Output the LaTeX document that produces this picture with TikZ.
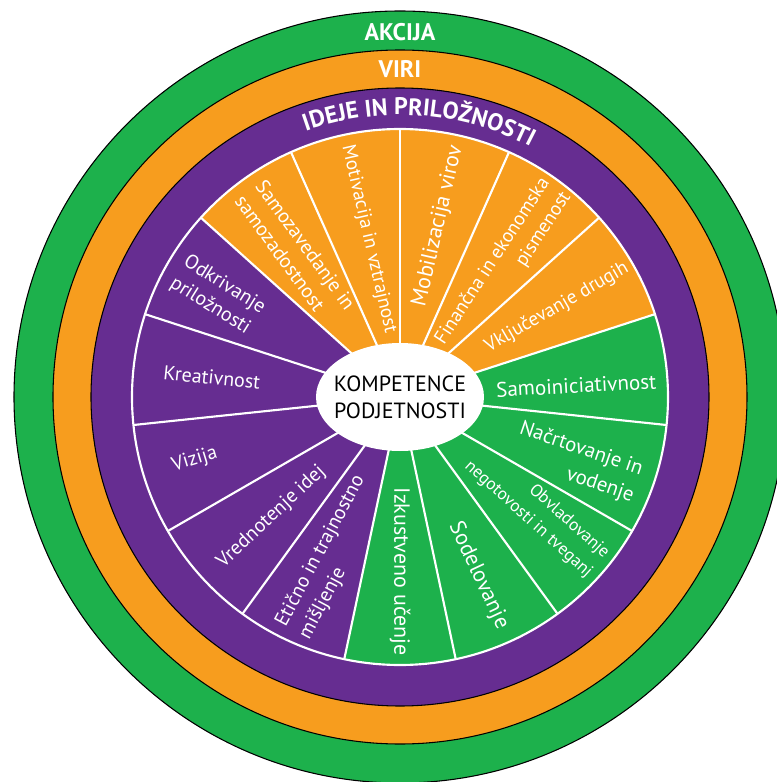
\documentclass[tikz,border=0pt]{standalone}
\usepackage{fontspec}
\setmainfont{PT Sans}
\usetikzlibrary{decorations.text}

\definecolor{akcija}{RGB}{29,177,76}
\definecolor{viri}{RGB}{247,157,30}
\definecolor{ideje}{RGB}{102,45,145}

\tikzset{
  ring/.style={draw=black,line width=0.8pt},
  spoke/.style={draw=white,line width=1.6pt},
  lbl/.style={text=white,inner sep=0pt,font=\fontsize{15}{19}\selectfont},
  lblr/.style={lbl,anchor=east,align=right},
  lbll/.style={lbl,anchor=west,align=left},
  big/.style={font=\fontsize{16.5}{20}\selectfont},
  small/.style={font=\fontsize{13}{19}\selectfont},
  head/.style={text=white,inner sep=0pt,font=\fontsize{18}{20}\selectfont\bfseries}
}

\begin{document}
\begin{tikzpicture}[x=0.75pt,y=0.75pt]
  \clip (-400,-385) rectangle (377,397);
  \fill[white] (-400,-385) rectangle (377,397);
  % rings
  \draw[ring,fill=akcija] (0,0) circle (386);
  \draw[ring,fill=viri] (0,0) circle (347);
  \draw[ring,fill=ideje] (0,0) circle (309);
  \node[head] (akc) at (0,365) {AKCIJA};
  \node[head] (vir) at (0,328) {VIRI};
  \path[decorate,decoration={text along path,text align=center,text color=white,
      text={|\fontsize{18}{20}\selectfont\bfseries|IDEJE IN PRILOŽNOSTI}}]
    (120:282) arc (120:52:282);
  % wheel
  \fill[viri] (0,0) -- (18:268) arc (18:138:268) -- cycle;
  \fill[ideje] (0,0) -- (138:268) arc (138:258:268) -- cycle;
  \fill[akcija] (0,0) -- (258:268) arc (258:378:268) -- cycle;
  \foreach \a in {18,42,...,354}
    \draw[spoke] (0,0) -- (\a:268);
  \draw[spoke] (0,0) circle (268);
  \fill[white] (0,0) ellipse [x radius=84,y radius=54];
  \node[inner sep=0pt,align=center,font=\fontsize{16.5}{20}\selectfont] (komp) at (0,0) {KOMPETENCE\\PODJETNOSTI};

  % viri
  \node[lbll,rotate=-54] (samoz) at (125.9:256) {Samozavedanje in\\samozadostnost};
  \node[lbll,rotate=-77,font=\fontsize{14.5}{19}\selectfont] (motiv) at (101.9:257) {Motivacija in vztrajnost};
  \node[lblr,big,rotate=77] (mobil) at (77.3:258) {Mobilizacija virov};
  \node[lblr,rotate=57,font=\fontsize{14.5}{19}\selectfont] (finan) at (53.4:262) {Finančna in ekonomska\\pismenost};
  \node[lblr,rotate=30,font=\fontsize{14.5}{19}\selectfont] (vklju) at (29.8:262) {Vključevanje drugih};
  % akcija
  \node[lblr,rotate=3,font=\fontsize{15.8}{19}\selectfont] (samoi) at (3.5:257) {Samoiniciativnost};
  \node[lblr,rotate=-19,font=\fontsize{15.5}{21}\selectfont] (nacrt) at (340:253) {Načrtovanje in\\vodenje};
  \node[lblr,small,rotate=-42] (obvla) at (319.7:260) {Obvladovanje\\negotovosti in tveganj};
  \node[lblr,big,rotate=-65] (sodel) at (294:253) {Sodelovanje};
  \node[lblr,big,rotate=-90] (izkus) at (270:259) {Izkustveno učenje};
  % ideje
  \node[lbll,rotate=62,font=\fontsize{15}{20}\selectfont] (eticn) at (245.4:258) {Etično in trajnostno\\mišljenje};
  \node[lbll,rotate=43] (vredn) at (223:246) {Vrednotenje idej};
  \node[lbll,rotate=17] (vizij) at (197:238) {Vizija};
  \node[lbll,rotate=-6] (kreat) at (174:238) {Kreativnost};
  \node[lbll,rotate=-32] (odkri) at (150.4:255) {Odkrivanje\\priložnosti};
\end{tikzpicture}
\end{document}
